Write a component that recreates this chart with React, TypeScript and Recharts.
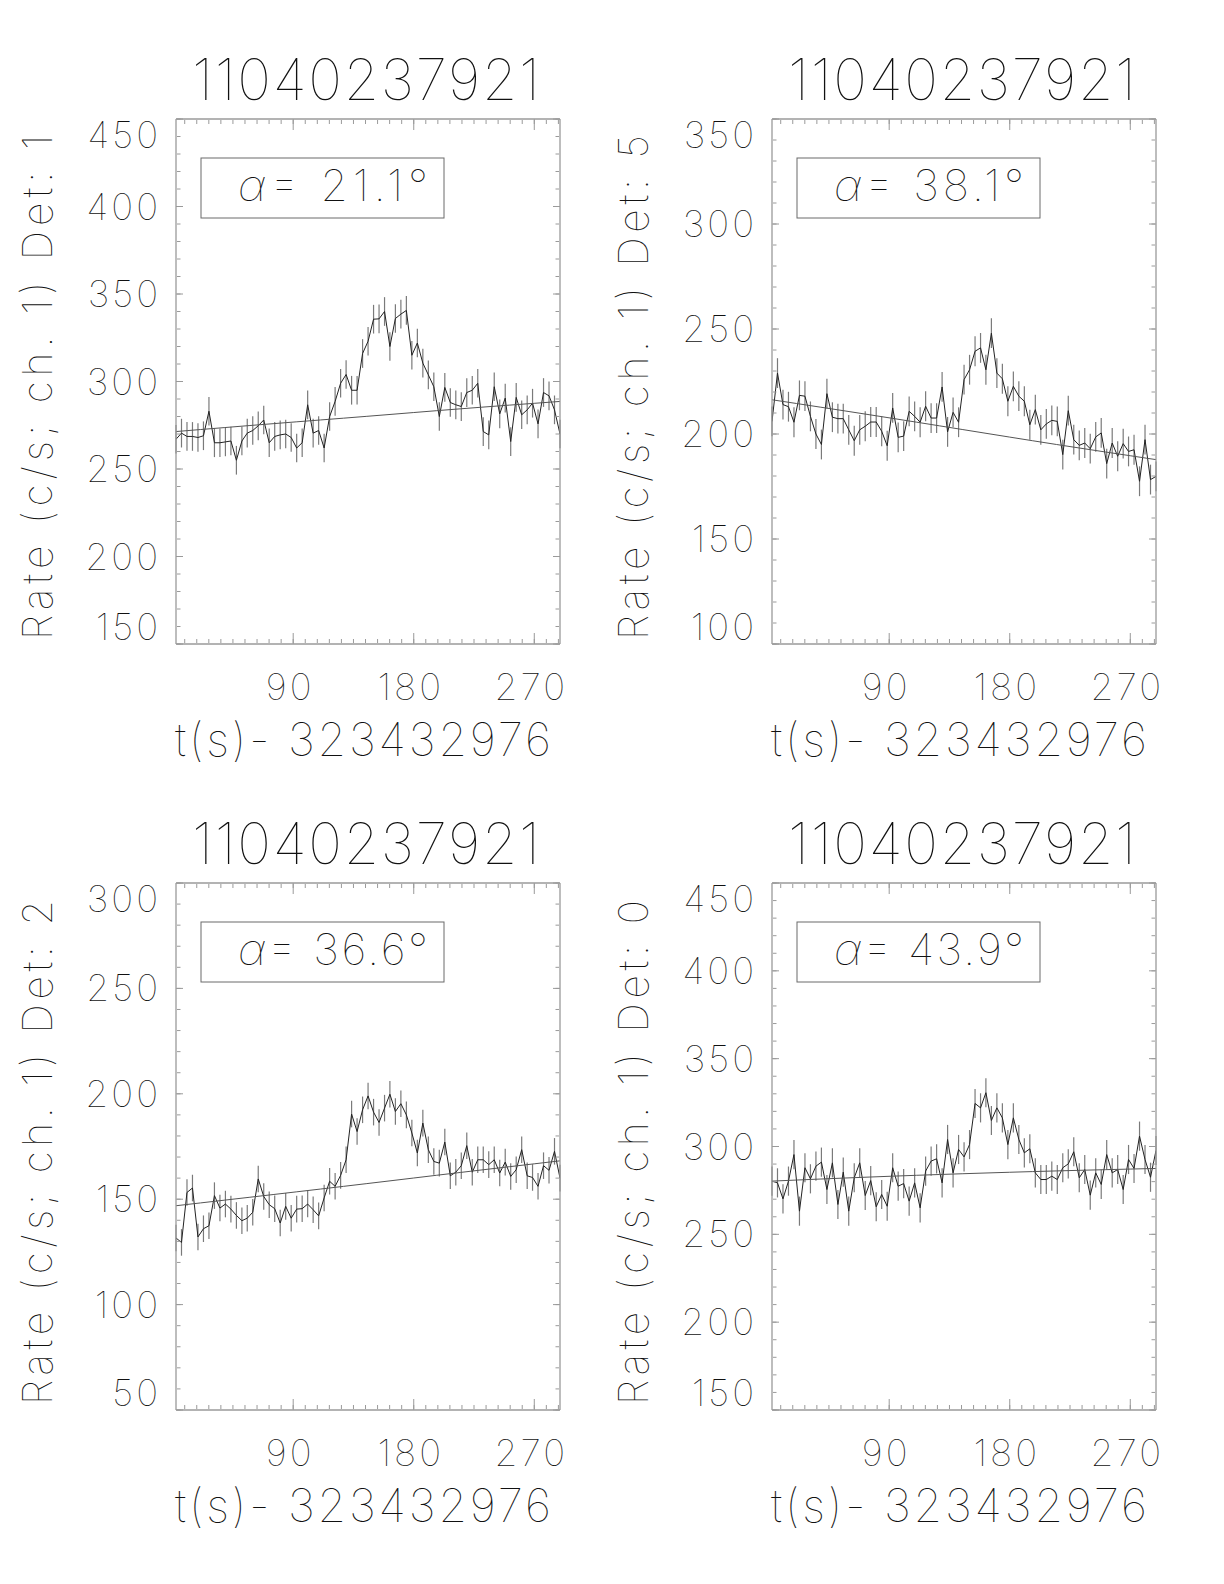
import React from 'react';
import { LineChart, Line, XAxis, YAxis, ErrorBar } from 'recharts';

const FONT = 'Inter, "DejaVu Sans", sans-serif';
const INK = '#111';
const FRAME = '#9a9a9a';

const obsId = '11040237921';
const xTitle = 't(s)- 323432976';

// bin centres (s after trigger), 4.096 s bins
const times = [
  2.5, 6.6, 10.7, 14.8, 18.9, 23.0, 27.1, 31.2, 35.3, 39.4,
  43.5, 47.6, 51.7, 55.7, 59.8, 63.9, 68.0, 72.1, 76.2, 80.3,
  84.4, 88.5, 92.6, 96.7, 100.8, 104.9, 109.0, 113.1, 117.2, 121.3,
  125.4, 129.5, 133.6, 137.7, 141.8, 145.9, 150.0, 154.1, 158.2, 162.2,
  166.3, 170.4, 174.5, 178.6, 182.7, 186.8, 190.9, 195.0, 199.1, 203.2,
  207.3, 211.4, 215.5, 219.6, 223.7, 227.8, 231.9, 236.0, 240.1, 244.2,
  248.3, 252.4, 256.5, 260.6, 264.7, 268.7, 272.8, 276.9, 281.0, 285.1,
  289.2,
];

const det1Rate = [
  267, 270.5, 268.6, 268.6, 268, 269, 283, 265, 265, 265.5,
  266, 255, 266, 270.5, 272, 274.7, 278, 265, 268.6, 269.5,
  270, 268, 262, 265, 286.7, 270.5, 272, 262, 280, 288.6,
  299, 304, 295, 295, 316, 323, 335.6, 335.8, 340, 320,
  336, 338.5, 340.6, 315, 322, 310.5, 303.8, 297, 280, 296.6,
  288, 286.7, 285.7, 293.7, 295, 299, 271.4, 269.5, 297, 281.5,
  290.5, 265.7, 290.9, 281, 283.8, 287.6, 275.8, 293.7, 291.8, 283.8,
  270,
];
const det5Rate = [
  206, 229, 214, 213, 205.6, 218.4, 218, 208.4, 200, 195,
  219.2, 208, 207.3, 207.3, 202, 196.8, 202, 203.7, 205.7, 205.7,
  201.3, 194.4, 212.4, 198.4, 199, 210.8, 208.4, 205.6, 213.2, 207.6,
  207.6, 222.4, 201, 210.3, 205.6, 225.9, 230.6, 239.4, 241, 230.6,
  248, 229, 226.3, 215.6, 222.7, 218, 215.6, 204.4, 211.6, 202,
  204.8, 206.5, 206, 190.2, 211.1, 197.3, 194.6, 195.7, 193, 198.6,
  200.5, 185.9, 195.7, 189.4, 195.4, 191.7, 192.5, 177.5, 197.3, 178.3,
  179.8,
];
const det2Rate = [
  131.6, 129.5, 153.2, 155.3, 132.1, 136, 137.4, 151.7, 145.8, 147.7,
  145.3, 142.3, 139.8, 141, 143.8, 159.6, 151.3, 147.4, 145.5, 138.7,
  146.6, 141, 145.3, 145.5, 147.7, 145, 142.1, 150.6, 158.5, 156.1,
  161.3, 168.7, 190.4, 182.1, 192.4, 199, 191.3, 186.4, 193.2, 199.8,
  191.6, 195.3, 190, 181.4, 171.9, 186.1, 173.5, 167.9, 167.1, 177.1,
  161.1, 162.8, 165.9, 175.4, 162.8, 168.7, 168.7, 166.4, 168.7, 162.4,
  167.6, 160.8, 164, 173.5, 161.1, 160.3, 156.1, 165.9, 163.7, 172.7,
  160,
];
const det0Rate = [
  280.3, 279.3, 270.2, 280.3, 295.4, 263.2, 287.9, 281.6, 288.8, 291.1,
  275.5, 290.7, 267, 285.4, 263.2, 282.2, 290.7, 272.1, 280.6, 265.7,
  272.7, 266, 287.9, 277.4, 278.9, 268.9, 279.3, 265.1, 286, 291.7,
  293, 279.3, 304, 285, 298.3, 294.1, 301.1, 324.5, 322, 330.6,
  314.8, 322, 316.3, 301.1, 316.3, 304, 296.4, 298.7, 285, 281.2,
  281.2, 283.1, 281.2, 287.9, 290.1, 297, 282.2, 286.9, 272.3, 285,
  278.4, 295.4, 285, 286.9, 275.5, 292.6, 287.5, 305.9, 292.6, 282.5,
  297.7,
];

// background fit, read at a few times
const fitTimes = [2.5, 75, 145, 215, 289.2];
const det1Fit = [271.4, 275.9, 280.1, 284.4, 288.6];
const det5Fit = [216.3, 209.2, 202.1, 195.0, 187.8];
const det2Fit = [146.9, 152.2, 157.4, 162.7, 168.2];
const det0Fit = [280.3, 282.6, 284.5, 286.1, 287.5];

const xMajor = [90, 180, 270];

const range = (a: number, b: number, s: number) => {
  const out: number[] = [];
  for (let v = a; v <= b + 1e-9; v += s) out.push(v);
  return out;
};
const xMinor = range(9, 288, 9);

const panels = [
  { det: '1', alpha: '21.1', rate: det1Rate, fit: det1Fit, err: 8.2, lo: 150, hi: 450, col: 0, row: 0 },
  { det: '5', alpha: '38.1', rate: det5Rate, fit: det5Fit, err: 7.1, lo: 100, hi: 350, col: 1, row: 0 },
  { det: '2', alpha: '36.6', rate: det2Rate, fit: det2Fit, err: 6.3, lo: 50, hi: 300, col: 0, row: 1 },
  { det: '0', alpha: '43.9', rate: det0Rate, fit: det0Fit, err: 8.3, lo: 150, hi: 450, col: 1, row: 1 },
];

const CW = 612;
const CH = 792;
const PW = 384;
const plotLefts = [176, 160];
const plotTops = [119, 91];
const plotHeights = [525, 527];
const LAB = 20;

const textStyle = { fontFamily: FONT, fontWeight: 100, fill: INK } as const;
const noLabel = () => <g />;

const Panel = ({ p }: { p: (typeof panels)[number] }) => {
  const left = plotLefts[p.col];
  const top = plotTops[p.row];
  const ph = plotHeights[p.row];
  const bottom = top + ph;
  const rows = times.map((t, i) => ({ t, rate: p.rate[i], err: p.err }));
  const fitRows = fitTimes.map((t, i) => ({ t, fit: p.fit[i] }));
  const yMajor = range(p.lo, p.hi, 50);
  const yMinor = range(p.lo, p.hi, 10);
  const xDom: [number, number] = [times[0], times[times.length - 1]];
  const yDom: [number, number] = [p.lo, p.hi];

  const xLabel = (props: any) => (
    <text x={props.x - 3} y={bottom + 56} textAnchor="middle" fontSize={37} letterSpacing={3} {...textStyle}>
      {props.payload.value}
    </text>
  );
  const yLabel = (props: any) => {
    const v = props.payload.value;
    const shift = v === p.hi ? 16 : v === p.lo ? -17 : 0;
    return (
      <text x={left - 15} y={props.y + shift + 13} textAnchor="end" fontSize={37} letterSpacing={3} {...textStyle}>
        {v}
      </text>
    );
  };

  // mirrored (inward) tick axes; size 1 so that stacked major/minor axes sit on the frame
  const xTick = { type: 'number' as const, allowDataOverflow: true, mirror: true, tick: noLabel, interval: 0 as const, height: 1 };
  const yTick = { type: 'number' as const, allowDataOverflow: true, mirror: true, tick: noLabel, interval: 0 as const, width: 1 };

  return (
    <div style={{ position: 'absolute', left: p.col * CW, top: p.row * CH, width: CW, height: CH }}>
      <LineChart
        width={CW}
        height={CH}
        margin={{ top, left: left - LAB, right: CW - left - PW, bottom: CH - bottom - LAB }}
      >
        <XAxis xAxisId="lab" dataKey="t" type="number" domain={xDom} allowDataOverflow ticks={xMajor}
          interval={0} height={LAB} tickLine={false} axisLine={false} tick={xLabel} />
        <XAxis xAxisId="bMaj" dataKey="t" domain={xDom} ticks={xMajor} orientation="bottom" tickSize={11}
          axisLine={{ stroke: FRAME, strokeWidth: 1.3 }} tickLine={{ stroke: FRAME }} {...xTick} />
        <XAxis xAxisId="bMin" dataKey="t" domain={xDom} ticks={xMinor} orientation="bottom" tickSize={4}
          axisLine={false} tickLine={{ stroke: FRAME }} {...xTick} />
        <XAxis xAxisId="tMaj" dataKey="t" domain={xDom} ticks={xMajor} orientation="top" tickSize={11}
          axisLine={{ stroke: FRAME, strokeWidth: 1.3 }} tickLine={{ stroke: FRAME }} {...xTick} />
        <XAxis xAxisId="tMin" dataKey="t" domain={xDom} ticks={xMinor} orientation="top" tickSize={4}
          axisLine={false} tickLine={{ stroke: FRAME }} {...xTick} />

        <YAxis yAxisId="lab" type="number" domain={yDom} allowDataOverflow ticks={yMajor} interval={0}
          width={LAB} tickLine={false} axisLine={false} tick={yLabel} />
        <YAxis yAxisId="lMaj" domain={yDom} ticks={yMajor} orientation="left" tickSize={7}
          axisLine={{ stroke: FRAME, strokeWidth: 1.3 }} tickLine={{ stroke: FRAME }} {...yTick} />
        <YAxis yAxisId="lMin" domain={yDom} ticks={yMinor} orientation="left" tickSize={3.5}
          axisLine={false} tickLine={{ stroke: FRAME }} {...yTick} />
        <YAxis yAxisId="rMaj" domain={yDom} ticks={yMajor} orientation="right" tickSize={7}
          axisLine={{ stroke: FRAME, strokeWidth: 1.3 }} tickLine={{ stroke: FRAME }} {...yTick} />
        <YAxis yAxisId="rMin" domain={yDom} ticks={yMinor} orientation="right" tickSize={3.5}
          axisLine={false} tickLine={{ stroke: FRAME }} {...yTick} />

        <Line xAxisId="lab" yAxisId="lab" data={rows} dataKey="rate" type="linear" stroke="#222"
          strokeWidth={1} dot={false} isAnimationActive={false}>
          <ErrorBar dataKey="err" width={0} stroke="#7a7a7a" strokeWidth={1.2} direction="y" />
        </Line>
        <Line xAxisId="lab" yAxisId="lab" data={fitRows} dataKey="fit" type="natural" stroke="#555"
          strokeWidth={1} dot={false} isAnimationActive={false} />
      </LineChart>

      <svg width={CW} height={CH}
        style={{ position: 'absolute', left: 0, top: 0, pointerEvents: 'none', overflow: 'visible' }}>
        <text x={left + PW / 2 - 2} y={top - 19} textAnchor="middle" fontSize={57} textLength={348}
          lengthAdjust="spacing" {...textStyle}>
          {obsId}
        </text>
        <text x={left + PW / 2 - 5} y={bottom + 112} textAnchor="middle" fontSize={46} textLength={376}
          lengthAdjust="spacing" {...textStyle}>
          {xTitle}
        </text>
        <text transform={`translate(${left - 124},${top + ph / 2 + 6}) rotate(-90)`} textAnchor="middle"
          fontSize={41} textLength={505} lengthAdjust="spacing" {...textStyle}>
          {`Rate (c/s; ch. 1) Det: ${p.det}`}
        </text>
        <rect x={left + 25} y={top + 39} width={243} height={60} fill="none" stroke="#6a6a6a" strokeWidth={1} />
        <text x={left + 62} y={top + 82} fontSize={44} textLength={190} lengthAdjust="spacing" {...textStyle}>
          <tspan fontStyle="italic">α</tspan>
          {`=  ${p.alpha}°`}
        </text>
      </svg>
    </div>
  );
};

export default function App() {
  return (
    <div style={{ position: 'absolute', left: 0, top: 0, width: 1224, height: 1584, background: '#fff' }}>
      {panels.map((p) => (
        <Panel key={p.det} p={p} />
      ))}
    </div>
  );
}
